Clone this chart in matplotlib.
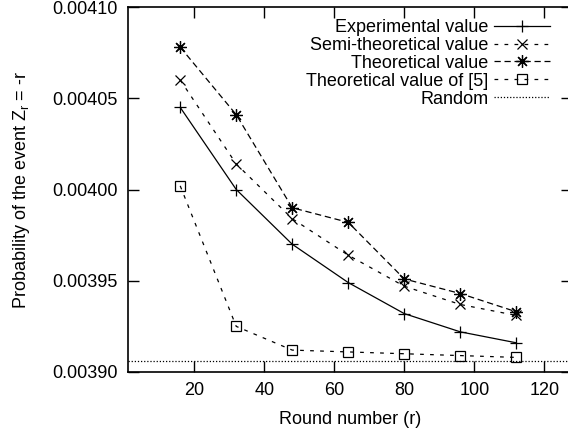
import matplotlib
matplotlib.use("Agg")
import matplotlib.pyplot as plt
from matplotlib.ticker import FormatStrFormatter

plt.rcParams['font.family'] = ['Liberation Sans', 'DejaVu Sans']

# rounds
rounds = [16, 32, 48, 64, 80, 96, 112]

# values
experimental = [0.004045, 0.004000, 0.003970, 0.003949, 0.003932, 0.003922, 0.003916]
semi_theoretical = [0.004060, 0.004014, 0.003984, 0.003964, 0.003947, 0.003937, 0.003931]
theoretical = [0.004078, 0.004041, 0.003990, 0.003982, 0.003951, 0.003943, 0.003933]
theoretical_ref5 = [0.004002, 0.003925, 0.003912, 0.003911, 0.003910, 0.003909, 0.003908]
random_value = 1.0 / 256

fs = 13

fig = plt.figure(figsize=(5.68, 4.34), dpi=100)
# plot area is wider than the picture (right edge cropped, like the original)
ax = fig.add_axes([127.7 / 568, 62 / 434, 444.6 / 568, 365 / 434])

lw = 0.9
ax.plot(rounds, experimental, color='black', lw=lw, ls='-',
        marker='+', ms=9, mew=lw, label='Experimental value')
ax.plot(rounds, semi_theoretical, color='black', lw=lw, ls=(0, (3, 5)),
        marker='x', ms=7, mew=lw, label='Semi-theoretical value')
ax.plot(rounds, theoretical, color='black', lw=lw, ls=(0, (5, 3)),
        marker=(8, 2, 0), ms=9, mew=lw, label='Theoretical value')
ax.plot(rounds, theoretical_ref5, color='black', lw=lw, ls=(0, (3, 5)),
        marker='s', ms=7, mew=lw, fillstyle='none', label='Theoretical value of [5]')
ax.axhline(random_value, color='black', lw=lw, ls=(0, (1, 1.5)), label='Random')

ax.set_xlim(1, 128)
ax.set_ylim(0.00390, 0.00410)
ax.set_xticks([20, 40, 60, 80, 100, 120])
ax.set_yticks([0.00390, 0.00395, 0.00400, 0.00405, 0.00410])
ax.yaxis.set_major_formatter(FormatStrFormatter('%.5f'))
ax.tick_params(direction='in', top=True, right=True, length=8, width=1,
               labelsize=fs, pad=7)
for s in ax.spines.values():
    s.set_linewidth(1.2)

ax.set_xlabel('Round number (r)', fontsize=fs, labelpad=9)
ax.set_ylabel('Probability of the event Z$_\\mathregular{r}$ = -r', fontsize=fs, labelpad=15)

leg = ax.legend(loc='upper right', bbox_to_anchor=(550 / 568, 415 / 434),
                bbox_transform=fig.transFigure, frameon=False, markerfirst=False,
                numpoints=1, fontsize=fs, handlelength=3.1, handletextpad=0.3,
                labelspacing=0.05, borderpad=0, borderaxespad=0)
for t in leg.get_texts():
    t.set_ha('right')
leg._legend_box.align = 'right'

fig.savefig('out.png', dpi=100)
